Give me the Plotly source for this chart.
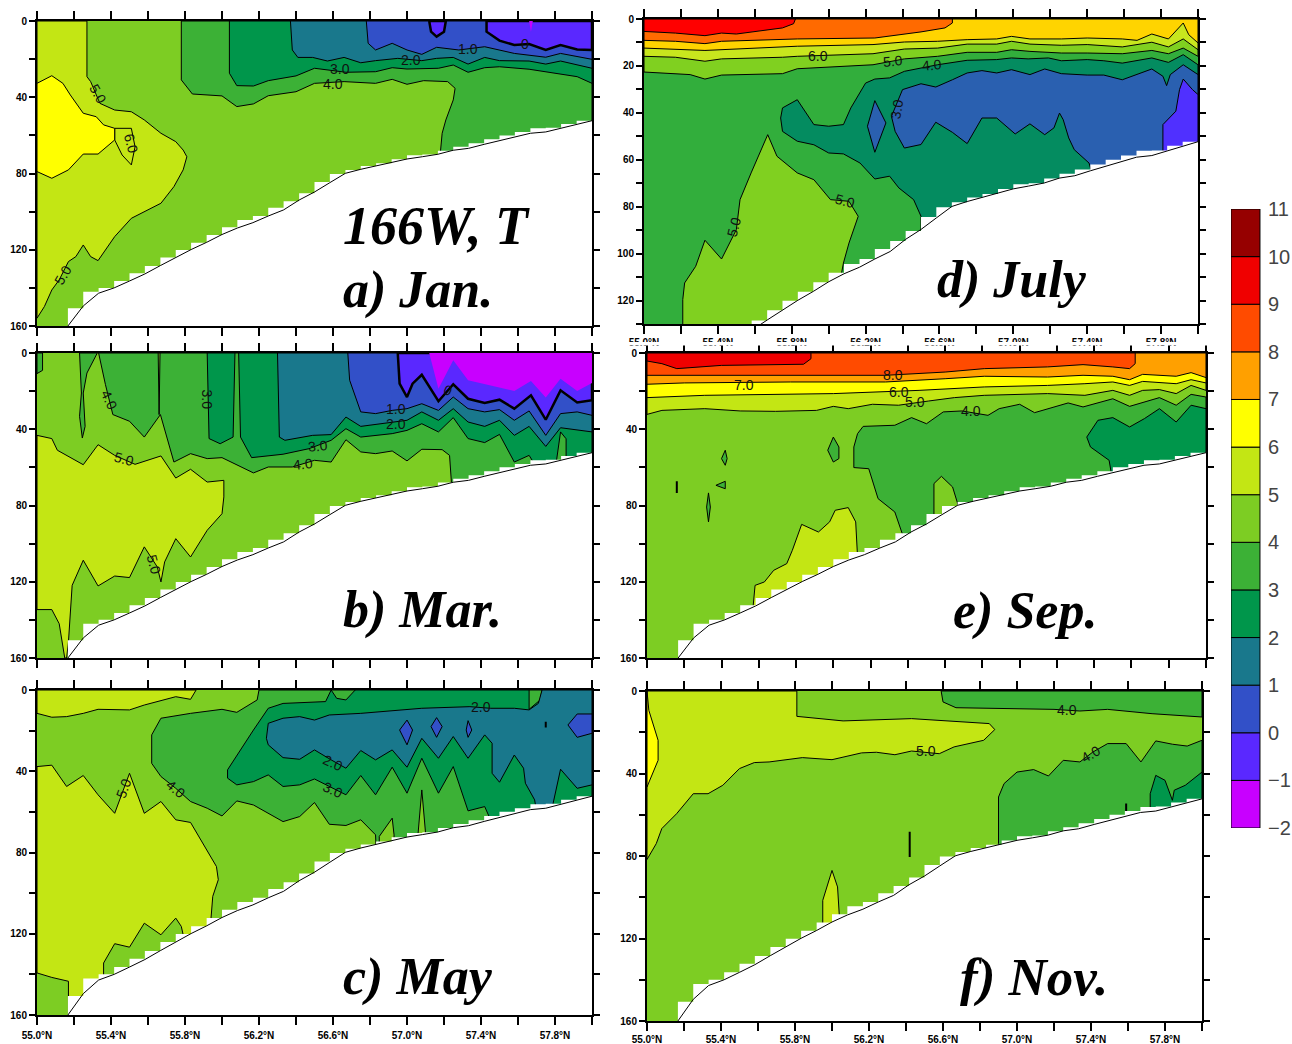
import plotly.graph_objects as go

W, H = 1292, 1044

# temperature bands (lower bound of the band in the name)
CM2, CM1, C0, C1, C2, C3, C4, C5, C6, C7, C8, C9, C10 = (
    "#c800ff", "#5a28ff", "#3250c8", "#19788c", "#00964b", "#3cb136", "#7dcd23",
    "#c3e614", "#ffff00", "#ffa000", "#ff4b00", "#f00000", "#960000")
CB_LEVELS = [-2, -1, 0, 1, 2, 3, 4, 5, 6, 7, 8, 9, 10]
CB_COLORS = [CM2, CM1, C0, C1, C2, C3, C4, C5, C6, C7, C8, C9, C10]
CB_TICKS = [-2, -1, 0, 1, 2, 3, 4, 5, 6, 7, 8, 9, 10, 11]
CB_TEXT = ["\u22122", "\u22121", "0", "1", "2", "3", "4", "5", "6", "7", "8", "9", "10", "11"]
# July panel palette
DR, DO, DA, DL, DG, DN, DT, DB, DV = ("#ff0000", "#ff6a00", "#ffd400", "#c8e61e", "#80d020",
                                      "#32ae3c", "#048c60", "#2a60b0", "#5030ff")

# sea floor along the section
BOTTOM_LAT = [55.167, 55.25, 55.333, 55.417, 55.5, 55.583, 55.667, 55.75, 55.833, 55.917, 56.0, 56.083, 56.167, 56.25, 56.333, 56.417, 56.5, 56.583, 56.667, 56.75, 56.833, 56.917, 57.0, 57.083, 57.167, 57.25, 57.333, 57.417, 57.5, 57.583, 57.667, 57.75, 57.833, 57.917, 58.0]
BOTTOM_DEP = [160, 149.5, 142.8, 140, 136.4, 132.7, 128.3, 124.1, 119.9, 116.1, 112, 108.6, 105.8, 102.3, 99.1, 93.9, 89.7, 84.8, 79.9, 77.8, 75.9, 74.1, 72.4, 71.2, 69.9, 67.8, 66.8, 64.7, 62.8, 60.8, 58.9, 58.2, 56.3, 54.2, 52.3]
STEP_DEP = [150.7, 142, 140, 136.4, 132.3, 128.5, 124.1, 120.1, 116.3, 112.2, 108.2, 104.4, 102.3, 98, 94.6, 90.4, 84.4, 80.2, 78.1, 76.1, 74.6, 72.5, 70.4, 70, 68, 66, 64.1, 62, 60, 58.2, 56.2, 56, 54, 52.3, 52.3]

# ---- a) January: isotherm outlines (latitude, depth)
JAN_5_LAT = [55.27, 55.27, 55.29, 55.34, 55.42, 55.51, 55.58, 55.67, 55.75, 55.79, 55.81, 55.79, 55.74, 55.67, 55.51, 55.42, 55.33, 55.29, 55.25, 55.21, 55.17, 55.12, 55.08, 55.04, 55.0, 55.0]
JAN_5_DEP = [0, 29.2, 31.8, 43.2, 46.7, 47.6, 51.9, 58.9, 63.3, 67.7, 71.2, 78.1, 86.9, 95.6, 103.5, 113.1, 125.7, 123.6, 117.5, 123.6, 126.2, 135.8, 141.1, 149.8, 155.9, 0]
JAN_6B_LAT = [55.42, 55.51, 55.53, 55.51, 55.46, 55.42]
JAN_6B_DEP = [56.3, 56.3, 66, 75.5, 70.3, 62.4]
JAN_6_LAT = [55.0, 55.08, 55.14, 55.18, 55.25, 55.32, 55.36, 55.42, 55.42, 55.33, 55.25, 55.17, 55.08, 55.0]
JAN_6_DEP = [32.7, 28.7, 32.7, 38.8, 48.4, 50.2, 54.5, 56.3, 62.4, 69.8, 69.8, 78.1, 82.5, 79]
JAN_3_LAT = [55.78, 55.78, 55.84, 56.0, 56.08, 56.17, 56.25, 56.4, 56.5, 56.66, 56.83, 56.92, 57.0, 57.09, 57.22, 57.26, 57.25, 57.21, 57.19, 57.18, 57.18, 58.0, 58.0]
JAN_3_DEP = [0, 30.9, 38.3, 39.3, 44.9, 43.5, 39.2, 37.1, 32.7, 31.8, 32.7, 30.6, 33.2, 31.3, 31.8, 35.3, 41.4, 51.9, 58.9, 69.4, 94, 160, 0]
JAN_2_LAT = [56.04, 56.04, 56.08, 56.17, 56.25, 56.4, 56.5, 56.67, 56.83, 56.92, 57.0, 57.17, 57.25, 57.33, 57.42, 57.5, 57.66, 57.79, 57.92, 58.0, 58.0]
JAN_2_DEP = [0, 27.4, 33.9, 34.1, 31.3, 28.8, 24.8, 26.9, 26.6, 24.5, 25.2, 24.8, 23.1, 26.9, 24.5, 24, 25.3, 27.4, 29.2, 32.7, 0]
JAN_1_LAT = [56.37, 56.38, 56.41, 56.49, 56.57, 56.66, 56.75, 56.83, 56.95, 57.08, 57.16, 57.25, 57.33, 57.42, 57.5, 57.66, 57.75, 57.83, 58.0, 58.0]
JAN_1_DEP = [0, 15.2, 19.1, 19.1, 21, 19.1, 21.9, 20.8, 19.6, 20.8, 19.6, 19.1, 22.6, 19.1, 20.8, 21, 22.6, 21, 24.8, 0]
JAN_0_LAT = [56.78, 56.79, 56.83, 56.92, 57.0, 57.08, 57.16, 57.28, 57.42, 57.58, 57.75, 57.83, 58.0, 58.0]
JAN_0_DEP = [0, 11.7, 15.2, 11.7, 15.2, 17.5, 13.8, 15.2, 13.5, 17, 19, 17, 20.1, 0]
JAN_M1_LAT = [57.43, 57.43, 57.5, 57.58, 57.66, 57.75, 57.83, 57.92, 58.0, 58.0]
JAN_M1_DEP = [0, 5.6, 10.3, 12.6, 12.1, 15.2, 12.6, 14.9, 15.2, 0]
JAN_M1B_LAT = [57.12, 57.13, 57.16, 57.2, 57.21]
JAN_M1B_DEP = [0, 5.6, 8.2, 5.6, 0]
JAN_M2_LAT = [57.66, 57.67, 57.68]
JAN_M2_DEP = [0, 5.6, 0]

# ---- b) March
MAR_5_LAT = [55.0, 55.08, 55.11, 55.25, 55.33, 55.42, 55.53, 55.67, 55.75, 55.83, 55.92, 56.01, 56.01, 56.0, 55.92, 55.83, 55.75, 55.69, 55.67, 55.65, 55.58, 55.5, 55.42, 55.33, 55.25, 55.19, 55.17, 55.16, 55.15, 55.12, 55.08, 55.0]
MAR_5_DEP = [43.2, 44.9, 51, 58.6, 48.1, 53.7, 58.4, 54, 65.6, 61, 67.7, 66.8, 75.5, 84.3, 93, 107, 97.4, 109.6, 120.1, 112.2, 101.7, 117.8, 117, 122.2, 108.7, 121.9, 151.6, 160, 160, 142, 134.6, 134.6]
MAR_3A_LAT = [55.0, 55.03, 55.03, 55.0]
MAR_3A_DEP = [0, 0, 9.1, 10.8]
MAR_3B_LAT = [55.23, 55.24, 55.23, 55.245, 55.26, 55.25, 55.27, 55.326]
MAR_3B_DEP = [0, 21, 33.2, 44.6, 38.5, 21, 10.5, 0]
MAR_3_LAT = [55.333, 55.37, 55.41, 55.5, 55.58, 55.667, 55.74, 55.83, 55.92, 56.0, 56.17, 56.25, 56.38, 56.5, 56.59, 56.67, 56.75, 56.83, 56.92, 57.0, 57.08, 57.19, 57.23, 57.24, 57.24, 58.0, 58.0]
MAR_3_DEP = [0, 16.6, 32.3, 35.8, 44.1, 32.3, 57.2, 52.8, 55.4, 54.9, 62.9, 59.8, 59.8, 56.3, 57.2, 45.5, 51.9, 52.8, 51.4, 56.6, 50.5, 50.7, 53.7, 67.7, 98, 160, 0]
MAR_4S_LAT = [55.655, 55.665, 55.66]
MAR_4S_DEP = [0, 0, 32.3]
MAR_2A_LAT = [55.92, 55.93, 55.99, 56.06, 56.07]
MAR_2A_DEP = [0, 44.9, 47.6, 44.1, 0]
MAR_2_LAT = [56.09, 56.1, 56.16, 56.33, 56.47, 56.59, 56.67, 56.75, 56.92, 57.0, 57.08, 57.17, 57.25, 57.33, 57.42, 57.5, 57.58, 57.66, 57.69, 57.69, 58.0, 58.0]
MAR_2_DEP = [0, 44.1, 54.9, 53.1, 50.2, 45.8, 39.7, 44.1, 42.3, 40.6, 37.1, 41.4, 33.9, 44.9, 47, 42.7, 57.2, 53.7, 58.4, 80, 80, 0]
MAR_3C_LAT = [57.8, 57.83, 57.86, 57.86]
MAR_3C_DEP = [62, 41.4, 45, 62]
MAR_1_LAT = [56.3, 56.31, 56.34, 56.49, 56.59, 56.67, 56.75, 56.92, 57.0, 57.08, 57.17, 57.25, 57.33, 57.42, 57.5, 57.58, 57.66, 57.75, 57.83, 58.0, 58.0]
MAR_1_DEP = [0, 44.1, 45.8, 43.2, 42.8, 33.6, 38.5, 36.2, 35.3, 30.9, 35.3, 29.2, 36.2, 38.5, 35.3, 43.2, 38.5, 49, 39.2, 41.4, 0]
MAR_0_LAT = [56.68, 56.69, 56.75, 56.83, 56.92, 57.0, 57.08, 57.17, 57.25, 57.33, 57.42, 57.5, 57.58, 57.66, 57.75, 57.83, 57.92, 58.0, 58.0]
MAR_0_DEP = [0, 14.3, 30.9, 31.8, 30.1, 29.2, 26.6, 30.1, 23.1, 29.2, 30.9, 29.7, 35.3, 30.4, 43.2, 31.8, 30.9, 32.7, 0]
MAR_M1_LAT = [56.95, 56.96, 57.0, 57.03, 57.08, 57.17, 57.25, 57.33, 57.42, 57.5, 57.58, 57.67, 57.75, 57.83, 57.92, 58.0, 58.0]
MAR_M1_DEP = [0, 16.1, 23.1, 16.1, 11.4, 25.3, 16.4, 24, 26.2, 24.5, 29.2, 22.2, 35, 19.6, 26, 24.8, 0]
MAR_M2_LAT = [57.12, 57.17, 57.25, 57.33, 57.58, 57.67, 57.75, 57.83, 57.92, 58.0, 58.0]
MAR_M2_DEP = [0, 18.7, 3.8, 14.3, 19.9, 14.7, 23.4, 13.5, 19.9, 15.7, 0]

# ---- c) May
MAY_5A_LAT = [55.0, 55.08, 55.16, 55.25, 55.33, 55.5, 55.58, 55.75, 55.83, 55.86, 55.0]
MAY_5A_DEP = [11.5, 13.4, 13.1, 11.5, 9.5, 9.8, 7.4, 3.3, 4.6, 0, 0]
MAY_5_LAT = [55.0, 55.08, 55.16, 55.25, 55.33, 55.42, 55.5, 55.58, 55.67, 55.75, 55.83, 55.92, 55.97, 55.98, 55.95, 55.94, 55.94, 55.79, 55.79, 55.78, 55.75, 55.67, 55.58, 55.5, 55.42, 55.36, 55.36, 55.36, 55.17, 55.17, 55.08, 55.0]
MAY_5_DEP = [37.7, 37, 47.5, 42.1, 51.6, 60.7, 41, 60.7, 54.9, 63.9, 65.2, 78.7, 86.9, 93.4, 101.6, 113.1, 126.2, 126.2, 120.5, 116.4, 112.3, 120.5, 114.8, 126.6, 124.9, 134.4, 141.8, 159, 159, 143.4, 141.5, 139.3]
MAY_3_LAT = [56.2, 56.19, 56.08, 56.0, 55.83, 55.67, 55.62, 55.62, 55.67, 55.75, 55.83, 55.92, 56.0, 56.08, 56.17, 56.25, 56.33, 56.42, 56.5, 56.58, 56.67, 56.75, 56.83, 56.84, 58.0, 58.0]
MAY_3_DEP = [0, 4.9, 11, 9.5, 11.5, 13.9, 22.1, 36.1, 42.6, 48.4, 54.9, 58.2, 62, 54.6, 56.6, 60.7, 64.8, 62.3, 55.4, 66.1, 66.7, 63.9, 71.3, 93, 160, 0]
MAY_4A_LAT = [56.85, 56.92, 56.93, 56.93, 56.85]
MAY_4A_DEP = [72.1, 63.1, 71.3, 80, 80]
MAY_4B_LAT = [57.06, 57.08, 57.1, 57.1, 57.06]
MAY_4B_DEP = [70.5, 49.2, 70.2, 80, 80]
MAY_2_LAT = [56.59, 56.56, 56.33, 56.25, 56.17, 56.08, 56.03, 56.03, 56.08, 56.17, 56.25, 56.33, 56.42, 56.5, 56.67, 56.75, 56.83, 56.92, 57.0, 57.08, 57.17, 57.25, 57.33, 57.42, 57.45, 57.45, 58.0, 58.0]
MAY_2_DEP = [0, 5.7, 6.6, 9, 19.7, 32, 39.3, 43.4, 46.7, 45.1, 41.8, 47.5, 46.7, 43.8, 51.6, 42.1, 51.6, 38, 50.8, 33.6, 50.8, 37.7, 59.5, 57.4, 63.6, 90, 160, 0]
MAY_3A_LAT = [56.59, 56.62, 56.67, 56.72]
MAY_3A_DEP = [0, 4.1, 4.9, 0]
MAY_3B_LAT = [57.66, 57.73, 57.72, 57.66]
MAY_3B_DEP = [0, 0, 4.9, 9.5]
MAY_1_LAT = [57.73, 57.71, 57.66, 57.58, 57.45, 57.34, 57.08, 56.75, 56.58, 56.5, 56.42, 56.33, 56.25, 56.24, 56.25, 56.33, 56.42, 56.5, 56.59, 56.67, 56.75, 56.83, 56.92, 57.0, 57.08, 57.17, 57.25, 57.33, 57.42, 57.46, 57.46, 57.5, 57.58, 57.63, 57.64, 57.69, 57.7, 57.7, 57.79, 57.79, 57.83, 57.92, 58.0, 58.0]
MAY_1_DEP = [0, 6.6, 9.8, 9, 9, 8.2, 9, 11.5, 12.3, 14.8, 13.1, 13.9, 16.4, 23.8, 27, 33.3, 34.1, 29.5, 34.4, 38.5, 29.8, 34.4, 29.5, 38, 23.8, 33.6, 22.9, 33.6, 22.1, 26.2, 41, 45.4, 32, 38.5, 45.9, 54.1, 59.8, 77, 77, 55.7, 39, 48.4, 46.7, 0]
MAY_0A_LAT = [57.0, 56.96, 57.0, 57.03]
MAY_0A_DEP = [14.8, 19.7, 27, 19.7]
MAY_0B_LAT = [57.16, 57.13, 57.16, 57.19]
MAY_0B_DEP = [13.6, 18, 23.3, 18]
MAY_0C_LAT = [57.33, 57.32, 57.33, 57.35]
MAY_0C_DEP = [15.1, 19.7, 23.3, 19.7]
MAY_0D_LAT = [58.0, 57.92, 57.87, 57.92, 58.0]
MAY_0D_DEP = [11.8, 11.8, 17.2, 23.3, 21.3]
MAY_DASH_LAT = [57.75, 57.75]
MAY_DASH_DEP = [15.6, 18.5]

# ---- d) July
JUL_4_LAT = [55.21, 55.21, 55.22, 55.28, 55.33, 55.42, 55.5, 55.52, 55.58, 55.67, 55.72, 55.83, 55.92, 56.01, 56.11, 56.16, 56.11, 56.08, 56.07, 56.07, 55.21]
JUL_4_DEP = [130, 119.6, 112.5, 105.4, 94.3, 102.3, 89.8, 77, 65.6, 49.3, 58.5, 65.6, 68.5, 77, 77.7, 84.1, 95.5, 104, 108.2, 133.8, 133.8]
JUL_2_LAT = [56.5, 56.5, 56.46, 56.38, 56.33, 56.25, 56.17, 56.08, 56.0, 55.92, 55.83, 55.75, 55.74, 55.75, 55.83, 55.92, 56.0, 56.08, 56.12, 56.2, 56.25, 56.33, 56.41, 56.5, 56.59, 56.75, 56.91, 56.99, 57.08, 57.19, 57.26, 57.4, 57.49, 57.59, 57.75, 57.84, 57.92, 58.0, 58.0, 56.5]
JUL_2_DEP = [89.8, 84.1, 77, 72, 67, 68.2, 61.4, 57.5, 57.1, 53.6, 52.1, 47.9, 42.2, 37.9, 34.4, 45, 45.7, 45, 37.9, 27.3, 25.6, 25.1, 22.3, 20.9, 19.5, 17.6, 17.3, 16.6, 17, 16.6, 17.8, 17.3, 17.8, 18.8, 16.6, 18.5, 15.2, 19.5, 91, 91]
JUL_1_LAT = [57.42, 57.41, 57.33, 57.3, 57.27, 57.25, 57.22, 57.17, 57.09, 57.01, 56.91, 56.83, 56.75, 56.67, 56.58, 56.5, 56.41, 56.36, 56.34, 56.4, 56.5, 56.58, 56.67, 56.75, 56.83, 56.91, 56.99, 57.09, 57.17, 57.26, 57.4, 57.49, 57.59, 57.75, 57.81, 57.83, 57.85, 57.92, 58.0, 58.0, 57.42]
JUL_1_DEP = [64.2, 61.4, 55.7, 50.7, 42.9, 40.1, 46.4, 49.3, 44.7, 49, 42.2, 42.2, 53.1, 48.3, 44, 53.5, 55, 47.9, 41.5, 30.1, 27.6, 29, 25.9, 23, 22, 23, 21.6, 23.7, 21.3, 23.3, 23.9, 23.9, 25.9, 21.3, 24.4, 28.4, 23.7, 19.5, 23.7, 80, 80]
JUL_1B_LAT = [56.25, 56.21, 56.25, 56.31]
JUL_1B_DEP = [34.8, 45.7, 56.8, 44.3]
JUL_0_LAT = [57.81, 57.81, 57.88, 57.9, 57.92, 57.97, 58.0, 58.0, 57.81]
JUL_0_DEP = [56.8, 45, 39.3, 30.1, 25.6, 30.1, 32.2, 80, 80]
JUL_G_LAT = [55.0, 55.25, 55.33, 55.42, 55.75, 55.83, 56.24, 56.41, 56.59, 56.75, 56.91, 56.99, 57.09, 57.26, 57.4, 57.59, 57.75, 57.84, 57.92, 58.0, 58.0, 55.0]
JUL_G_DEP = [22.6, 23.7, 25.6, 23.9, 23.3, 21.2, 19.5, 17, 15.9, 14.2, 14.2, 13.1, 13.8, 14.5, 14.5, 14.8, 13.4, 14.8, 12.4, 15.9, 0, 0]
JUL_L_LAT = [55.0, 55.17, 55.33, 55.42, 55.75, 55.83, 56.24, 56.41, 56.59, 56.75, 56.91, 56.99, 57.09, 57.26, 57.4, 57.59, 57.75, 57.84, 57.92, 58.0, 58.0, 55.0]
JUL_L_DEP = [15.9, 16.3, 18, 17, 16.3, 15.9, 14.8, 12.8, 12.4, 10.7, 10.7, 9.5, 10.7, 11.2, 10.9, 11.9, 9.9, 11.9, 8.5, 13.1, 0, 0]
JUL_A_LAT = [55.0, 55.33, 55.83, 56.24, 56.41, 56.59, 56.75, 56.91, 56.99, 57.09, 57.26, 57.4, 57.59, 57.67, 57.75, 57.84, 57.92, 57.95, 58.0, 58.0, 55.0]
JUL_A_DEP = [12.4, 13.4, 11.6, 10.9, 9.8, 9.5, 8.8, 8.5, 7.4, 8.5, 8.5, 8.1, 8.5, 9.1, 6.4, 8.5, 1.7, 6.7, 10.2, 0, 0]
JUL_O_LAT = [55.0, 55.17, 55.33, 55.42, 55.83, 56.25, 56.5, 56.63, 56.67, 56.67, 55.0]
JUL_O_DEP = [9.1, 9.5, 10.5, 9.5, 8.5, 8.1, 5.5, 3.8, 1.7, 0, 0]
JUL_R_LAT = [55.0, 55.17, 55.33, 55.42, 55.5, 55.59, 55.75, 55.81, 55.82, 55.0]
JUL_R_DEP = [5.3, 6, 7.1, 6, 6.4, 5.5, 3.8, 2, 0, 0]

# ---- e) September
SEP_3_LAT = [56.11, 56.11, 56.13, 56.16, 56.33, 56.42, 56.5, 56.59, 56.69, 56.83, 56.89, 57.0, 57.08, 57.26, 57.34, 57.5, 57.59, 57.75, 57.84, 57.92, 58.0, 58.0, 56.37, 56.37, 56.33, 56.24, 56.19]
SEP_3_DEP = [60.1, 49.3, 42.3, 38.5, 37.9, 33.9, 37.1, 30.9, 30.4, 32.7, 29.2, 26.9, 31.3, 26.2, 28.3, 24, 28, 23.4, 27.4, 21.7, 23.1, 100, 101.7, 94.8, 83.4, 76.4, 60.7]
SEP_4L_LAT = [56.54, 56.54, 56.58, 56.64, 56.67, 56.67, 56.54]
SEP_4L_DEP = [85.1, 68.5, 64.7, 70.3, 79.9, 87.8, 87.8]
SEP_2_LAT = [57.49, 57.48, 57.38, 57.36, 57.42, 57.5, 57.59, 57.67, 57.75, 57.84, 57.92, 58.0, 58.0, 57.49]
SEP_2_DEP = [62.1, 56.3, 49.3, 44.1, 35.3, 33.9, 38.8, 34.4, 29.2, 36.2, 27.4, 29.2, 81, 81]
SEP_3A_LAT = [56.0, 55.97, 56.0, 56.03, 56.03]
SEP_3A_DEP = [44.1, 51, 57.2, 55.4, 49.3]
SEP_3B_LAT = [55.42, 55.4, 55.42, 55.43]
SEP_3B_DEP = [51, 55.4, 58.9, 55.4]
SEP_3C_LAT = [55.37, 55.42, 55.42]
SEP_3C_DEP = [69.4, 67.3, 71.2]
SEP_3D_LAT = [55.33, 55.32, 55.33, 55.34]
SEP_3D_DEP = [73.4, 80.8, 88.6, 80.8]
SEP_DASH_LAT = [55.16, 55.16]
SEP_DASH_DEP = [67.3, 73.4]
SEP_5L_LAT = [55.57, 55.58, 55.63, 55.68, 55.75, 55.78, 55.83, 55.92, 55.98, 56.01, 56.08, 56.12, 56.13, 56.13, 55.57]
SEP_5L_DEP = [132.4, 121.9, 120.1, 114, 110.5, 103.5, 89.9, 93.9, 88.6, 82.5, 81.1, 88.6, 107, 133, 133]
SEP_5_LAT = [55.0, 55.08, 55.31, 55.5, 55.69, 55.91, 56.0, 56.08, 56.21, 56.35, 56.51, 56.65, 56.81, 57.15, 57.35, 57.5, 57.59, 57.66, 57.75, 57.84, 57.92, 58.0, 58.0, 55.0]
SEP_5_DEP = [32.2, 30.1, 29.2, 30.4, 30.6, 30.1, 28, 29.2, 26.9, 27.4, 25.2, 23.4, 22.2, 21.3, 22.2, 19.6, 22.2, 19.6, 19.2, 21.3, 17, 19.6, 0, 0]
SEP_6_LAT = [55.0, 55.31, 56.0, 56.28, 56.46, 56.81, 57.15, 57.35, 57.5, 57.59, 57.66, 57.84, 57.92, 58.0, 58.0, 55.0]
SEP_6_DEP = [23.4, 22.2, 21.3, 20.5, 19.6, 17.8, 17, 16.1, 15.2, 17, 14.9, 16.1, 14, 15.7, 0, 0]
SEP_7_LAT = [55.0, 55.2, 55.77, 56.28, 56.6, 56.81, 57.15, 57.34, 57.5, 57.59, 57.66, 57.84, 57.92, 58.0, 58.0, 55.0]
SEP_7_DEP = [16.4, 15.7, 15.2, 15.2, 13.5, 12.2, 12.6, 11.7, 12.2, 14, 11.2, 12.2, 10.3, 12.9, 0, 0]
SEP_8_LAT = [55.0, 56.28, 56.6, 56.81, 57.15, 57.34, 57.5, 57.59, 57.62, 57.62, 55.0]
SEP_8_DEP = [11.7, 11.7, 10, 8.2, 7.3, 6.1, 7.3, 8.2, 5.6, 0, 0]
SEP_9_LAT = [55.0, 55.08, 55.16, 55.4, 55.84, 55.88, 55.88, 55.0]
SEP_9_DEP = [4.2, 5.6, 8.2, 6.5, 5.9, 3, 0, 0]

# ---- f) November
NOV_5_LAT = [55.81, 55.81, 56.06, 56.43, 56.85, 56.88, 56.82, 56.66, 56.58, 56.43, 56.34, 56.24, 56.16, 56.0, 55.84, 55.66, 55.58, 55.5, 55.41, 55.33, 55.25, 55.16, 55.08, 55.05, 55.0, 55.0]
NOV_5_DEP = [0, 12.3, 14.5, 13.4, 15.8, 18.7, 23.9, 27.1, 30.4, 29.1, 30.9, 29.7, 30, 33.3, 32.3, 34.4, 34.7, 37.6, 45.7, 49.8, 49.8, 59.5, 66.7, 74, 81.7, 0]
NOV_6_LAT = [55.0, 55.01, 55.06, 55.06, 55.0]
NOV_6_DEP = [0, 9.4, 23.9, 33.6, 46.5]
NOV_5L_LAT = [55.95, 55.95, 56.0, 56.03, 56.04, 56.04, 55.95]
NOV_5L_DEP = [113.6, 101.5, 87, 95, 109.5, 117.6, 117.6]
NOV_3A_LAT = [56.59, 56.6, 56.67, 57.2, 57.34, 57.49, 57.73, 58.0, 58.0]
NOV_3A_DEP = [0, 5.3, 8.1, 8.9, 9.7, 8.9, 11, 12.6, 0]
NOV_3_LAT = [56.9, 56.9, 56.93, 57.0, 57.09, 57.17, 57.25, 57.34, 57.41, 57.49, 57.59, 57.67, 57.75, 57.84, 57.92, 58.0, 58.0, 56.9]
NOV_3_DEP = [74, 51.4, 44.9, 39.3, 38.1, 41.2, 33.6, 34.4, 29.6, 25.5, 25.5, 34.4, 24.2, 25.8, 26.7, 23.9, 108, 108]
NOV_2_LAT = [57.72, 57.72, 57.75, 57.8, 57.84, 57.85, 57.91, 58.0, 58.0, 57.72]
NOV_2_DEP = [58.2, 49.8, 40.9, 43.3, 53, 48.1, 45.7, 39.3, 75, 75]
NOV_DASH1_LAT = [56.42, 56.42]
NOV_DASH1_DEP = [68.3, 80.5]
NOV_DASH2_LAT = [57.59, 57.59]
NOV_DASH2_DEP = [54.6, 60.3]

# contour labels: text, latitude, depth, rotation
LABELS_JAN = [("5.0", 55.33, 38.3, 60), ("6.0", 55.51, 64.5, 75), ("1.0", 57.33, 14.9, 0), ("0", 57.64, 12.2, 0), ("2.0", 57.02, 20.5, 0), ("3.0", 56.64, 25, 0), ("4.0", 56.6, 33.2, 0), ("5.0", 55.14, 133.2, -60)]
LABELS_MAR = [("4.0", 55.39, 24.8, 65), ("3.0", 55.92, 24.5, 90), ("5.0", 55.47, 55.8, 15), ("3.0", 56.52, 49, -5), ("4.0", 56.44, 58, -5), ("5.0", 55.63, 110.8, 75), ("1.0", 56.94, 29.3, 0), ("2.0", 56.94, 37, 0), ("0", 57.22, 19.2, 20)]
LABELS_MAY = [("5.0", 55.47, 48.4, -70), ("4.0", 55.75, 48.7, 40), ("2.0", 57.4, 8.5, 0), ("2.0", 56.6, 36, 25), ("3.0", 56.6, 49.2, 25)]
LABELS_JUL = [("6.0", 55.94, 15.6, 0), ("5.0", 56.35, 18, -5), ("4.0", 56.56, 19.7, -5), ("3.0", 56.37, 38.4, -80), ("5.0", 55.49, 88.4, -75), ("5.0", 56.09, 77.7, 15)]
LABELS_SEP = [("8.0", 56.32, 11.4, 0), ("7.0", 55.52, 16.6, 0), ("6.0", 56.35, 20.5, 0), ("5.0", 56.44, 25.7, 0), ("4.0", 56.74, 30.4, 0)]
LABELS_NOV = [("4.0", 57.27, 9, 0), ("5.0", 56.51, 29.1, 0), ("4.0", 57.4, 30.7, -30)]

LAT_TICKS = [55.0, 55.2, 55.4, 55.6, 55.8, 56.0, 56.2, 56.4, 56.6, 56.8, 57.0, 57.2, 57.4, 57.6, 57.8, 58.0]
LAT_TEXT = ["55.0\u00b0N", "", "55.4\u00b0N", "", "55.8\u00b0N", "", "56.2\u00b0N", "", "56.6\u00b0N", "", "57.0\u00b0N", "", "57.4\u00b0N", "", "57.8\u00b0N", ""]
DEPTH_TICKS_160 = [0, 20, 40, 60, 80, 100, 120, 140, 160]
DEPTH_TEXT_160 = ["0", "", "40", "", "80", "", "120", "", "160"]
DEPTH_TICKS_130 = [0, 10, 20, 30, 40, 50, 60, 70, 80, 90, 100, 110, 120, 130]
DEPTH_TEXT_130 = ["0", "", "20", "", "40", "", "60", "", "80", "", "100", "", "120", ""]

PANELS = [
    dict(box=(37, 592, 21, 326), dmax=160, base=C4, showx=False, standoff=0, labels=LABELS_JAN, regions=[
        (C5, JAN_5_LAT, JAN_5_DEP, 1), (C5, JAN_6B_LAT, JAN_6B_DEP, 1), (C6, JAN_6_LAT, JAN_6_DEP, 1), (C3, JAN_3_LAT, JAN_3_DEP, 1),
        (C2, JAN_2_LAT, JAN_2_DEP, 1), (C1, JAN_1_LAT, JAN_1_DEP, 1), (C0, JAN_0_LAT, JAN_0_DEP, 1),
        (CM1, JAN_M1_LAT, JAN_M1_DEP, 2.5), (CM1, JAN_M1B_LAT, JAN_M1B_DEP, 2.5), (CM2, JAN_M2_LAT, JAN_M2_DEP, 0)]),
    dict(box=(37, 592, 353, 658), dmax=160, base=C4, showx=False, standoff=0, labels=LABELS_MAR, regions=[
        (C5, MAR_5_LAT, MAR_5_DEP, 1), (C3, MAR_3A_LAT, MAR_3A_DEP, 1), (C3, MAR_3B_LAT, MAR_3B_DEP, 1), (C3, MAR_3_LAT, MAR_3_DEP, 1), (C4, MAR_4S_LAT, MAR_4S_DEP, 1),
        (C2, MAR_2A_LAT, MAR_2A_DEP, 1), (C2, MAR_2_LAT, MAR_2_DEP, 1), (C3, MAR_3C_LAT, MAR_3C_DEP, 1), (C1, MAR_1_LAT, MAR_1_DEP, 1),
        (C0, MAR_0_LAT, MAR_0_DEP, 1), (CM1, MAR_M1_LAT, MAR_M1_DEP, 2.5), (CM2, MAR_M2_LAT, MAR_M2_DEP, 0)]),
    dict(box=(37, 592, 690, 1015), dmax=160, base=C4, showx=True, standoff=2, labels=LABELS_MAY, regions=[
        (C5, MAY_5A_LAT, MAY_5A_DEP, 1), (C5, MAY_5_LAT, MAY_5_DEP, 1), (C3, MAY_3_LAT, MAY_3_DEP, 1), (C4, MAY_4A_LAT, MAY_4A_DEP, 1), (C4, MAY_4B_LAT, MAY_4B_DEP, 1),
        (C2, MAY_2_LAT, MAY_2_DEP, 1), (C3, MAY_3A_LAT, MAY_3A_DEP, 1), (C3, MAY_3B_LAT, MAY_3B_DEP, 1), (C1, MAY_1_LAT, MAY_1_DEP, 1),
        (C0, MAY_0A_LAT, MAY_0A_DEP, 1), (C0, MAY_0B_LAT, MAY_0B_DEP, 1), (C0, MAY_0C_LAT, MAY_0C_DEP, 1), (C0, MAY_0D_LAT, MAY_0D_DEP, 1), (None, MAY_DASH_LAT, MAY_DASH_DEP, 2)]),
    dict(box=(644, 1198, 19, 324), dmax=130, base=DN, showx=True, standoff=0, labels=LABELS_JUL, regions=[
        (DG, JUL_4_LAT, JUL_4_DEP, 1), (DT, JUL_2_LAT, JUL_2_DEP, 1), (DB, JUL_1_LAT, JUL_1_DEP, 1), (DB, JUL_1B_LAT, JUL_1B_DEP, 1), (DV, JUL_0_LAT, JUL_0_DEP, 1),
        (DG, JUL_G_LAT, JUL_G_DEP, 1), (DL, JUL_L_LAT, JUL_L_DEP, 1), (DA, JUL_A_LAT, JUL_A_DEP, 1), (DO, JUL_O_LAT, JUL_O_DEP, 1), (DR, JUL_R_LAT, JUL_R_DEP, 1)]),
    dict(box=(647, 1206, 353, 658), dmax=160, base=C4, showx=False, standoff=0, labels=LABELS_SEP, regions=[
        (C3, SEP_3_LAT, SEP_3_DEP, 1), (C4, SEP_4L_LAT, SEP_4L_DEP, 1), (C2, SEP_2_LAT, SEP_2_DEP, 1), (C3, SEP_3A_LAT, SEP_3A_DEP, 1), (C3, SEP_3B_LAT, SEP_3B_DEP, 1),
        (C3, SEP_3C_LAT, SEP_3C_DEP, 1), (C3, SEP_3D_LAT, SEP_3D_DEP, 1), (None, SEP_DASH_LAT, SEP_DASH_DEP, 2), (C5, SEP_5L_LAT, SEP_5L_DEP, 1),
        (C5, SEP_5_LAT, SEP_5_DEP, 1), (C6, SEP_6_LAT, SEP_6_DEP, 1), (C7, SEP_7_LAT, SEP_7_DEP, 1), (C8, SEP_8_LAT, SEP_8_DEP, 1), (C9, SEP_9_LAT, SEP_9_DEP, 1)]),
    dict(box=(647, 1202, 691, 1021), dmax=160, base=C4, showx=True, standoff=0, labels=LABELS_NOV, regions=[
        (C5, NOV_5_LAT, NOV_5_DEP, 1), (C6, NOV_6_LAT, NOV_6_DEP, 1), (C5, NOV_5L_LAT, NOV_5L_DEP, 1), (C3, NOV_3A_LAT, NOV_3A_DEP, 1), (C3, NOV_3_LAT, NOV_3_DEP, 1),
        (C2, NOV_2_LAT, NOV_2_DEP, 1), (None, NOV_DASH1_LAT, NOV_DASH1_DEP, 2), (None, NOV_DASH2_LAT, NOV_DASH2_DEP, 2)]),
]

TITLES = [("166W, T", 341, 226, 54), ("a) Jan.", 341, 290, 52), ("b) Mar.", 341, 610, 52), ("c) May", 341, 977, 52),
          ("d) July", 935, 280, 52), ("e) Sep.", 951, 611, 52), ("f) Nov.", 958, 977, 53)]

fig = go.Figure()
layout = dict(width=W, height=H, margin=dict(l=0, r=0, t=0, b=0, autoexpand=False), autosize=False, paper_bgcolor="white",
              plot_bgcolor="white", showlegend=False, annotations=[], shapes=[], hovermode=False)
TICKFONT = dict(family="Liberation Sans Narrow, Liberation Sans", size=10, color="black", weight="bold")


def closed(seq):
    return list(seq) + [seq[0]]


for i, p in enumerate(PANELS, start=1):
    xa, ya = f"x{i}", f"y{i}"
    x0, x1, y0, y1 = p["box"]
    layout[f"xaxis{i}"] = dict(domain=[x0 / W, x1 / W], range=[55, 58], anchor=ya, tickvals=LAT_TICKS, automargin=False,
                               ticktext=LAT_TEXT if p["showx"] else [""] * len(LAT_TICKS), ticks="outside",
                               ticklen=8, tickwidth=1.5, tickcolor="black", showline=True, linewidth=2, linecolor="black",
                               mirror="ticks", showgrid=False, zeroline=False, tickfont=TICKFONT, tickangle=0,
                               ticklabelstandoff=p["standoff"])
    dm = p["dmax"]
    layout[f"yaxis{i}"] = dict(domain=[1 - y1 / H, 1 - y0 / H], range=[dm, 0], anchor=xa, automargin=False,
                               tickvals=DEPTH_TICKS_160 if dm == 160 else DEPTH_TICKS_130,
                               ticktext=DEPTH_TEXT_160 if dm == 160 else DEPTH_TEXT_130, ticks="outside", ticklen=6,
                               tickwidth=1.5, tickcolor="black", showline=True, linewidth=2, linecolor="black", mirror="ticks",
                               showgrid=False, zeroline=False, tickfont=TICKFONT)
    # base band
    fig.add_trace(go.Scatter(x=[55, 58, 58, 55, 55], y=[0, 0, 170, 170, 0], xaxis=xa, yaxis=ya, mode="lines",
                             fill="toself", fillcolor=p["base"], line=dict(width=0), hoverinfo="skip"))
    for color, lat, dep, lw in p["regions"]:
        fig.add_trace(go.Scatter(x=closed(lat), y=closed(dep), xaxis=xa, yaxis=ya, mode="lines",
                                 fill="toself" if color else "none", fillcolor=color,
                                 line=dict(color="black", width=lw), hoverinfo="skip"))
    # white staircase below the sea floor
    fig.add_trace(go.Scatter(x=BOTTOM_LAT + [58.0, BOTTOM_LAT[0], BOTTOM_LAT[0]],
                             y=STEP_DEP + [175, 175, STEP_DEP[0]], xaxis=xa, yaxis=ya, mode="lines",
                             fill="toself", fillcolor="white", line=dict(width=0, shape="hv"), hoverinfo="skip"))
    fig.add_trace(go.Scatter(x=BOTTOM_LAT, y=BOTTOM_DEP, xaxis=xa, yaxis=ya, mode="lines",
                             line=dict(color="black", width=1), hoverinfo="skip"))
    for text, lat, dep, ang in p["labels"]:
        layout["annotations"].append(dict(text=text, x=lat, y=dep, xref=xa, yref=ya, showarrow=False, textangle=ang,
                                          borderpad=0, font=dict(family="Liberation Sans", size=14, color="#111111")))

# colour bar
fig.add_trace(go.Bar(x=[0] * len(CB_LEVELS), y=[1] * len(CB_LEVELS), base=CB_LEVELS, width=1, xaxis="x7", yaxis="y7",
                     marker=dict(color=CB_COLORS, line=dict(color="black", width=1)), hoverinfo="skip"))
layout["xaxis7"] = dict(domain=[1231 / W, 1260 / W], range=[-0.5, 0.5], anchor="y7", visible=False, automargin=False)
layout["yaxis7"] = dict(domain=[1 - 828 / H, 1 - 209 / H], range=[-2, 11], anchor="x7", side="right", tickvals=CB_TICKS, automargin=False,
                        ticktext=CB_TEXT, ticks="", showgrid=False, zeroline=False, showline=True, linecolor="#888888",
                        linewidth=1, ticklabelstandoff=3, tickfont=dict(family="Liberation Sans", size=20, color="#444444"))

for text, px, py, size in TITLES:
    layout["annotations"].append(dict(text=f"<b><i>{text}</i></b>", x=px / W, y=1 - py / H, xref="paper", yref="paper",
                                      xanchor="left", yanchor="middle", showarrow=False,
                                      font=dict(family="Liberation Serif", size=size, color="black")))

# the July panel's latitude labels are cut off by the panel below
layout["shapes"].append(dict(type="rect", xref="paper", yref="paper", x0=620 / W, x1=1215 / W, y0=1 - 345.5 / H, y1=1 - 342 / H,
                             fillcolor="white", line=dict(width=0), layer="above"))

fig.update_layout(**layout)
fig.write_html("out.html", config={"displayModeBar": False},
               post_script="document.body.style.margin='0';document.documentElement.style.overflow='hidden';")
